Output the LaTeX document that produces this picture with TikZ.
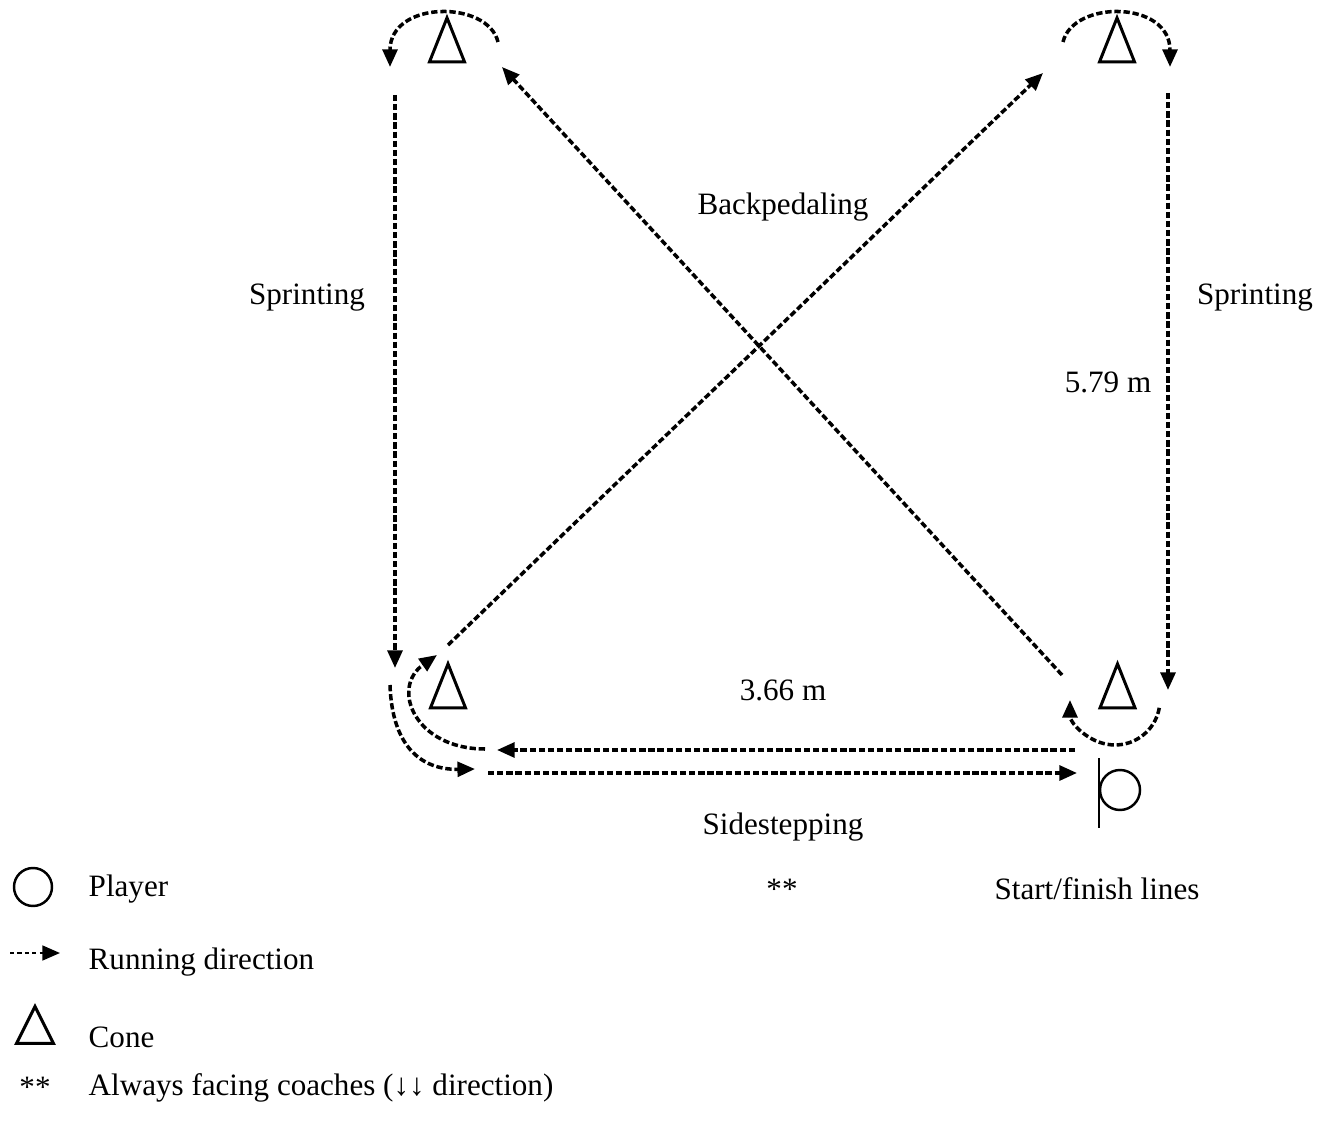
\documentclass[tikz,border=0pt]{standalone}
\usepackage{fontspec}
\setmainfont{Liberation Serif}
\usetikzlibrary{arrows.meta,shapes.geometric,positioning}

\tikzset{
  run/.style={line width=1pt, dash pattern=on 1.8pt off 0.8pt,
    -{Triangle[length=5pt,width=4.2pt]}},
  cone/.style={draw, line width=0.85pt, isosceles triangle,
    isosceles triangle stretches, shape border rotate=90,
    minimum width=0.35cm, minimum height=0.44cm, inner sep=0pt},
  lbl/.style={font=\fontsize{8.85}{10.6}\selectfont, inner sep=0pt},
}

\begin{document}
\begin{tikzpicture}
  \useasboundingbox (0,0) rectangle (13.31,11.28);
  % cones and player
  \node[cone] (tl) at (4.47,10.78) {};
  \node[cone] (tr) at (11.17,10.78) {};
  \node[cone] (bl) at (4.48,4.32) {};
  \node[cone] (br) at (11.175,4.32) {};
  \node[circle, draw, line width=0.7pt, minimum size=0.40cm, inner sep=0pt] (player) at (11.20,3.38) {};
  \draw[line width=0.45pt] ([yshift=0.32cm]player.west) -- ([yshift=-0.38cm]player.west);

  % running path ends
  \coordinate (tlArcA) at (4.98,10.86);
  \coordinate (tlArcB) at (3.90,10.61);
  \coordinate (leftTop) at (3.95,10.33);
  \coordinate (leftBot) at (3.95,4.60);
  \coordinate (blOutA) at (3.90,4.43);
  \coordinate (blOutB) at (4.75,3.59);
  \coordinate (lowA) at (4.88,3.55);
  \coordinate (lowB) at (10.77,3.55);
  \coordinate (upA) at (10.75,3.78);
  \coordinate (upB) at (4.97,3.78);
  \coordinate (blInA) at (4.85,3.79);
  \coordinate (blInB) at (4.37,4.73);
  \coordinate (diagA) at (4.48,4.83);
  \coordinate (diagB) at (10.43,10.55);
  \coordinate (trArcA) at (10.63,10.86);
  \coordinate (trArcB) at (11.70,10.61);
  \coordinate (rightTop) at (11.68,10.35);
  \coordinate (rightBot) at (11.68,4.38);
  \coordinate (brArcA) at (11.593,4.202);
  \coordinate (backA) at (10.62,4.53);
  \coordinate (backB) at (5.02,10.61);

  % running directions
  \draw[run] (tlArcA) .. controls (4.88,11.28) and (3.90,11.28) .. (tlArcB);
  \draw[run] (leftTop) -- (leftBot);
  \draw[run] (blOutA) .. controls (3.92,3.83) and (4.20,3.58) .. (blOutB);
  \draw[run] (lowA) -- (lowB);
  \draw[run] (upA) -- (upB);
  \draw[run] (blInA) .. controls (4.15,3.79) and (3.90,4.40) .. (blInB);
  \draw[run] (diagA) -- (diagB);
  \draw[run] (trArcA) .. controls (10.73,11.28) and (11.70,11.28) .. (trArcB);
  \draw[run] (rightTop) -- (rightBot);
  \draw[run] (brArcA) arc[start angle=-10, end angle=-180, radius=0.45];
  \draw[run] (backA) -- (backB);

  % labels
  \node[lbl] (backped) at (7.83,9.21) {Backpedaling};
  \node[lbl] (sprintL) at (3.07,8.30) {Sprinting};
  \node[lbl] (sprintR) at (12.55,8.30) {Sprinting};
  \node[lbl] (lenLong) at (11.08,7.46) {5.79 m};
  \node[lbl] (lenShort) at (7.83,4.38) {3.66 m};
  \node[lbl] (sidestep) at (7.83,3.01) {Sidestepping};
  \node[lbl] (facing) at (7.82,2.39) {**};
  \node[lbl] (startfin) at (10.97,2.39) {Start/finish lines};

  % legend
  \node[circle, draw, line width=0.7pt, minimum size=0.38cm, inner sep=0pt] (lgPlayer) at (0.33,2.41) {};
  \node[lbl, anchor=west] (lgPlayerTxt) at (0.88,2.39) {Player};
  \coordinate (lgRunA) at (0.10,1.75);
  \coordinate (lgRunB) at (0.60,1.75);
  \draw[run, line width=0.6pt, dash pattern=on 1.2pt off 0.9pt] (lgRunA) -- (lgRunB);
  \node[lbl, anchor=west] (lgRunTxt) at (0.88,1.66) {Running direction};
  \node[cone, minimum width=0.37cm, minimum height=0.37cm] (lgCone) at (0.35,0.96) {};
  \node[lbl, anchor=west] (lgConeTxt) at (0.88,0.91) {Cone};
  \node[lbl] (lgStars) at (0.35,0.41) {**};
  \node[lbl, anchor=west] (lgStarsTxt) at (0.88,0.40) {Always facing coaches (↓↓ direction)};
\end{tikzpicture}
\end{document}
